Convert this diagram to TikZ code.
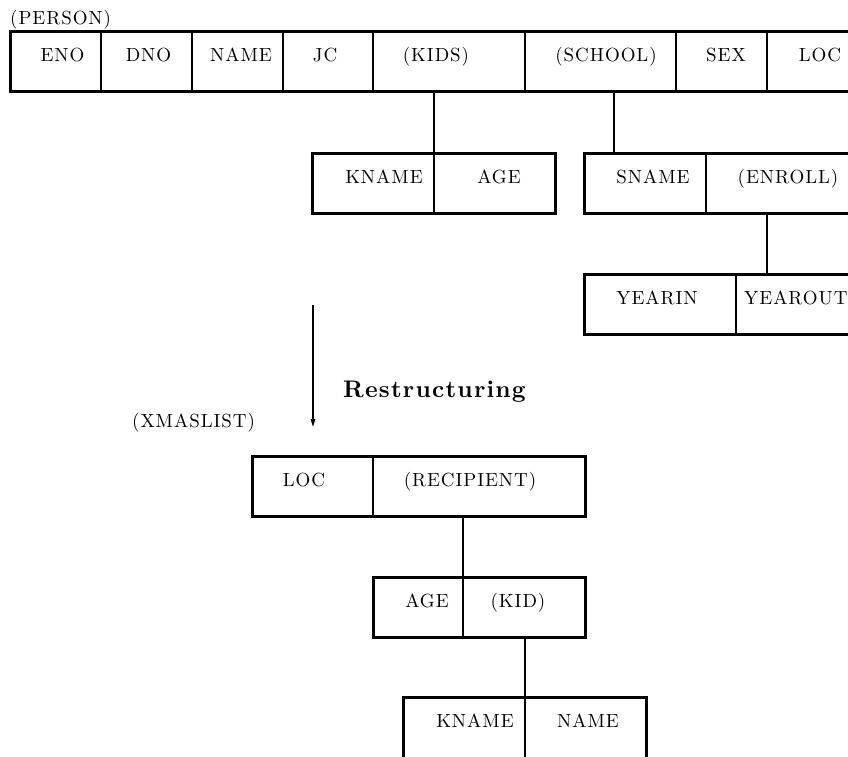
\documentclass[tikz,border=0pt]{standalone}
\usepackage{fontspec}
\usetikzlibrary{arrows.meta}

% design size 10 throughout, scaled up, slightly tracked
\newfontfamily\recfont{lmroman10-regular.otf}[LetterSpace=5]
\newfontfamily\headfont{lmroman10-bold.otf}[LetterSpace=5]

\tikzset{
  x=1pt, y=-1pt,
  cellbox/.style={draw, line width=1.8pt, inner sep=0pt, outer sep=0pt, anchor=north west},
  frame/.style={line width=3pt},
  link/.style={line width=1.8pt},
  lab/.style={anchor=base, inner sep=0pt, font=\recfont\fontsize{19}{22}\selectfont},
  title/.style={anchor=base west, inner sep=0pt, font=\recfont\fontsize{19}{22}\selectfont},
  heading/.style={anchor=base west, inner sep=0pt, font=\headfont\fontsize{24}{28}\selectfont},
  flow/.style={line width=1.3pt, -{Triangle[length=8pt,width=4.5pt]}},
}

% \rcell{name}{left}{right}{top}{bottom}: one field of a record
\newcommand\rcell[5]{%
  \node[cellbox, minimum width={(#3-#2)*1pt}, minimum height={(#5-#4)*1pt}] (#1) at (#2,#4) {};}

\begin{document}
\begin{tikzpicture}
  \useasboundingbox (0,0) rectangle (848,757);
  \clip (0,0) rectangle (848,757);

  % ---------- PERSON record ----------
  \node[title] (tperson) at (10,25) {(PERSON)};
  \rcell{eno}{10}{101}{32}{92}
  \rcell{dno}{101}{192}{32}{92}
  \rcell{pname}{192}{283}{32}{92}
  \rcell{jc}{283}{373}{32}{92}
  \rcell{kids}{373}{525}{32}{92}
  \rcell{school}{525}{676}{32}{92}
  \rcell{sex}{676}{767}{32}{92}
  \rcell{ploc}{767}{880}{32}{92}
  \draw[frame] (eno.north west) rectangle (ploc.south east);
  \node[lab] (leno) at (62.5,62) {ENO};
  \node[lab] (ldno) at (148.5,62) {DNO};
  \node[lab] (lpname) at (241,62) {NAME};
  \node[lab] (ljc) at (325,62) {JC};
  \node[lab] (lkids) at (436,62) {(KIDS)};
  \node[lab] (lschool) at (606,62) {(SCHOOL)};
  \node[lab] (lsex) at (726,62) {SEX};
  \node[lab] (lploc) at (820,62) {LOC};

  % ---------- KIDS ----------
  \rcell{kname}{312}{434}{153}{213}
  \rcell{kage}{434}{555}{153}{213}
  \draw[frame] (kname.north west) rectangle (kage.south east);
  \node[lab] (lkname) at (384,183) {KNAME};
  \node[lab] (lkage) at (499,183) {AGE};
  \draw[link] (kids.south -| kname.north east) -- (kname.north east);

  % ---------- SCHOOL ----------
  \rcell{sname}{584}{706}{153}{213}
  \rcell{enroll}{706}{880}{153}{213}
  \draw[frame] (sname.north west) rectangle (enroll.south east);
  \node[lab] (lsname) at (653,183) {SNAME};
  \node[lab] (lenroll) at (788,183) {(ENROLL)};
  \draw[link] ([xshift=13.5pt]school.south) -- ([xshift=13.5pt]school.south |- sname.north);

  % ---------- ENROLL ----------
  \rcell{yearin}{584}{736}{274}{334}
  \rcell{yearout}{736}{880}{274}{334}
  \draw[frame] (yearin.north west) rectangle (yearout.south east);
  \node[lab] (lyearin) at (657,304) {YEARIN};
  \node[lab, anchor=base west] (lyearout) at (744,304) {YEAROUT};
  \draw[link] ([xshift=-26pt]enroll.south) -- ([xshift=-26pt]enroll.south |- yearout.north);

  % ---------- transformation ----------
  \coordinate (flowtop) at (313,305);
  \coordinate (flowend) at (313,427);
  \draw[flow] (flowtop) -- (flowend);
  \node[heading] (lrestr) at (343,397) {Restructuring};

  % ---------- XMASLIST record ----------
  \node[title] (txmas) at (132,427) {(XMASLIST)};
  \rcell{xloc}{252}{373}{456}{516}
  \rcell{recip}{373}{585}{456}{516}
  \draw[frame] (xloc.north west) rectangle (recip.south east);
  \node[lab] (lxloc) at (304,486) {LOC};
  \node[lab] (lrecip) at (470,486) {(RECIPIENT)};

  % ---------- RECIPIENT ----------
  \rcell{rage}{373}{463}{577}{637}
  \rcell{kid}{463}{585}{577}{637}
  \draw[frame] (rage.north west) rectangle (kid.south east);
  \node[lab] (lrage) at (427,607) {AGE};
  \node[lab] (lkid) at (518,607) {(KID)};
  \draw[link] (recip.south -| rage.north east) -- (rage.north east);

  % ---------- KID ----------
  \rcell{kkname}{403}{525}{697}{765}
  \rcell{kkn}{525}{646}{697}{765}
  \draw[frame] (kkname.north west) rectangle (kkn.south east);
  \node[lab] (lkkname) at (475,727) {KNAME};
  \node[lab] (lkkn) at (588,727) {NAME};
  \draw[link] (kid.south -| kkname.north east) -- (kkname.north east);
\end{tikzpicture}
\end{document}
